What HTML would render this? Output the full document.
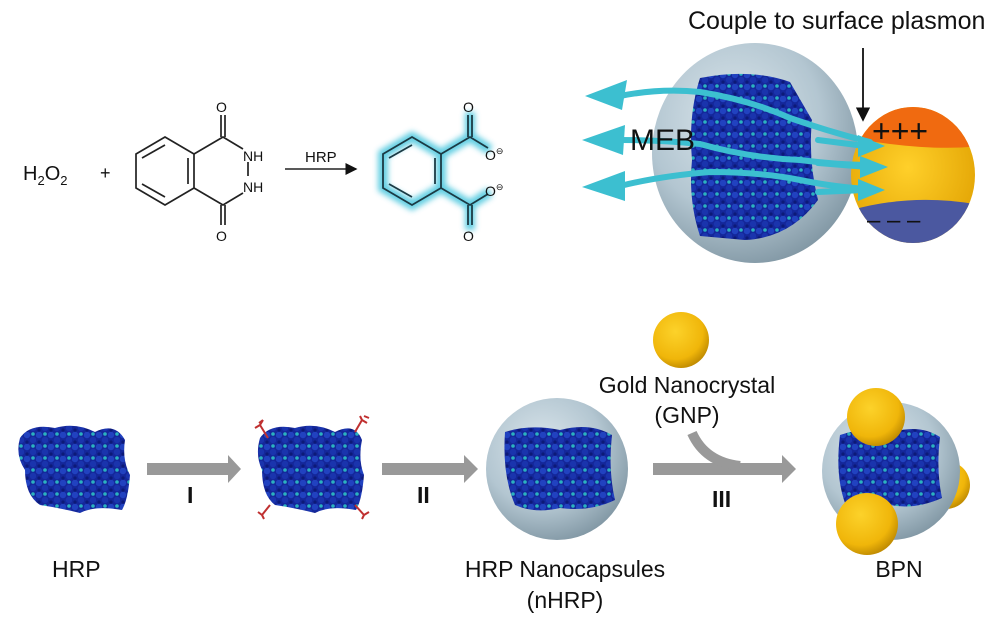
<!DOCTYPE html>
<html><head><meta charset="utf-8"><style>
html,body{margin:0;padding:0;background:#fff;width:1000px;height:625px;overflow:hidden}
svg{display:block}
text{font-family:"Liberation Sans",sans-serif;fill:#111}
</style></head><body>
<svg width="1000" height="625" viewBox="0 0 1000 625" xmlns="http://www.w3.org/2000/svg">
<defs>
<pattern id="prot" width="12" height="12" patternUnits="userSpaceOnUse">
<rect width="12" height="12" fill="#14279a"/>
<circle cx="3" cy="3" r="3.2" fill="#2142c0"/>
<circle cx="9" cy="8" r="3.2" fill="#1a34ad"/>
<circle cx="9" cy="2" r="1.8" fill="#2bb2bf"/>
<circle cx="3" cy="10" r="1.6" fill="#0c1a78"/>
</pattern>
<radialGradient id="cap" cx="0.4" cy="0.35" r="0.7">
<stop offset="0" stop-color="#dbe6ec"/><stop offset="0.6" stop-color="#b3c6d1"/><stop offset="1" stop-color="#7f95a2"/>
</radialGradient>
<radialGradient id="gold" cx="0.4" cy="0.35" r="0.7">
<stop offset="0" stop-color="#fcd22a"/><stop offset="0.7" stop-color="#f0b60a"/><stop offset="1" stop-color="#b98500"/>
</radialGradient>
<radialGradient id="bigg" cx="0.45" cy="0.45" r="0.6">
<stop offset="0" stop-color="#ffd02a"/><stop offset="1" stop-color="#e0a000"/>
</radialGradient>
<filter id="glow"><feGaussianBlur stdDeviation="3"/></filter>
<clipPath id="gc"><ellipse cx="913" cy="175" rx="62" ry="68"/></clipPath>
<marker id="ah" markerWidth="8" markerHeight="8" refX="7" refY="4" orient="auto"><path d="M0,0 L8,4 L0,8z" fill="#111"/></marker>
</defs>

<!-- Reaction -->
<text x="23" y="180" font-size="20">H<tspan font-size="13" dy="5">2</tspan><tspan dy="-5">O</tspan><tspan font-size="13" dy="5">2</tspan></text>
<text x="100" y="179" font-size="18">+</text>
<g stroke="#222" stroke-width="1.7" fill="none">
<polygon points="165,137 194,154 194,188 165,205 136,188 136,154"/>
<line x1="142" y1="158" x2="165" y2="145"/><line x1="188" y1="158" x2="188" y2="184"/><line x1="142" y1="184" x2="165" y2="197"/>
<path d="M194,154 L223,137 L243,149 M194,188 L223,205 L243,193 M248,162 L248,176"/>
<line x1="221" y1="137" x2="221" y2="115"/><line x1="225" y1="137" x2="225" y2="115"/>
<line x1="221" y1="205" x2="221" y2="225"/><line x1="225" y1="205" x2="225" y2="225"/>
</g>
<text x="216" y="112" font-size="14">O</text>
<text x="216" y="241" font-size="14">O</text>
<text x="243" y="161" font-size="14">NH</text>
<text x="243" y="192" font-size="14">NH</text>
<line x1="285" y1="169" x2="356" y2="169" stroke="#222" stroke-width="1.5" marker-end="url(#ah)"/>
<text x="305" y="162" font-size="15">HRP</text>
<g stroke="#3cc3dc" stroke-width="10" fill="none" filter="url(#glow)" opacity="0.8">
<polygon points="412,137 441,154 441,188 412,205 383,188 383,154"/>
<path d="M441,154 L470,137 L470,112 M470,137 L490,150 M441,188 L470,205 L470,230 M470,205 L490,192"/>
</g>
<g stroke="#1b3a44" stroke-width="1.8" fill="none">
<polygon points="412,137 441,154 441,188 412,205 383,188 383,154"/>
<line x1="389" y1="158" x2="412" y2="145"/><line x1="435" y1="158" x2="435" y2="184"/><line x1="389" y1="184" x2="412" y2="197"/>
<path d="M441,154 L470,137 L488,148 M441,188 L470,205 L488,194"/>
<line x1="468" y1="137" x2="468" y2="115"/><line x1="472" y1="137" x2="472" y2="115"/>
<line x1="468" y1="205" x2="468" y2="225"/><line x1="472" y1="205" x2="472" y2="225"/>
</g>
<text x="463" y="112" font-size="14" fill="#1b3a44">O</text>
<text x="463" y="241" font-size="14" fill="#1b3a44">O</text>
<text x="485" y="160" font-size="14" fill="#1b3a44">O<tspan font-size="9" dy="-6">⊖</tspan></text>
<text x="485" y="196" font-size="14" fill="#1b3a44">O<tspan font-size="9" dy="-6">⊖</tspan></text>

<!-- Top right -->
<text x="688" y="29" font-size="25">Couple to surface plasmon</text>
<line x1="863" y1="48" x2="863" y2="120" stroke="#111" stroke-width="1.8" marker-end="url(#ah)"/>
<ellipse cx="755" cy="153" rx="103" ry="110" fill="url(#cap)"/>
<path d="M700,78 Q750,68 790,82 L812,120 Q808,160 818,200 Q790,238 745,240 L700,236 Q688,200 692,160 Q688,115 700,78z" fill="url(#prot)"/>
<g clip-path="url(#gc)">
<rect x="845" y="100" width="140" height="150" fill="url(#bigg)"/>
<path d="M845,100 L980,100 L980,146 Q930,152 850,138z" fill="#f06a10"/>
<path d="M845,212 Q910,192 980,205 L980,250 L845,250z" fill="#4b58a0"/>
</g>
<text x="872" y="142" font-size="32" fill="#8a1010">+++</text>
<text x="867" y="228" font-size="24" fill="#2a3470">– – –</text>
<g stroke="#3cbfd0" stroke-width="6" fill="none" stroke-linecap="round">
<path d="M620,96 Q660,88 700,92 Q750,100 790,118 Q830,132 870,142"/>
<path d="M620,140 Q660,140 700,144 Q750,158 800,160 Q840,165 870,165"/>
<path d="M620,186 Q660,176 710,172 Q760,172 800,180 Q840,188 870,189"/>
<path d="M818,140 L865,146 M818,163 L868,167 M818,192 L865,190"/>
</g>
<g fill="#3cbfd0">
<polygon points="585,96 627,80 622,110"/><polygon points="582,140 625,125 623,155"/><polygon points="582,187 625,171 625,201"/>
<polygon points="885,146 858,135 858,157"/><polygon points="888,167 860,156 860,178"/><polygon points="885,190 858,179 858,201"/>
</g>
<text x="630" y="150" font-size="30">MEB</text>

<!-- Bottom row -->
<path d="M20,438 Q30,423 55,428 Q75,422 95,432 Q115,422 125,440 Q122,460 130,475 Q128,500 122,510 Q95,505 80,513 Q60,508 40,505 Q25,495 25,470 Q15,455 20,438z" fill="url(#prot)"/>
<text x="52" y="577" font-size="23">HRP</text>
<polygon points="147,463 228,463 228,455 241,469 228,483 228,475 147,475" fill="#999"/>
<text x="187" y="503" font-size="23" font-weight="bold">I</text>
<path d="M260,438 Q270,423 295,428 Q315,422 335,432 Q355,422 362,440 Q358,460 364,475 Q362,500 356,510 Q330,505 315,513 Q295,508 275,505 Q262,495 262,470 Q255,455 260,438z" fill="url(#prot)"/>
<g stroke="#c03030" stroke-width="2" fill="none">
<path d="M268,438 L260,425 M260,425 l-5,3 M260,425 l3,-5 M263,420 l-4,3"/><path d="M355,432 L362,420 M362,420 l5,3 M362,420 l-2,-4 M364,416 l5,2"/>
<path d="M270,505 L262,515 M262,515 l-4,-3 M262,515 l2,4"/><path d="M355,505 L364,515 M364,515 l5,-3 M364,515 l-2,4"/>
</g>
<polygon points="382,463 464,463 464,455 478,469 464,483 464,475 382,475" fill="#999"/>
<text x="417" y="503" font-size="23" font-weight="bold">II</text>
<circle cx="557" cy="469" r="71" fill="url(#cap)"/>
<path d="M505,432 Q530,424 560,430 Q590,422 612,435 Q608,470 615,500 Q590,512 560,508 Q535,514 515,505 Q502,475 505,432z" fill="url(#prot)"/>
<text x="565" y="577" font-size="23" text-anchor="middle">HRP Nanocapsules</text>
<text x="565" y="608" font-size="23" text-anchor="middle">(nHRP)</text>
<circle cx="681" cy="340" r="28" fill="url(#gold)"/>
<text x="687" y="393" font-size="23" text-anchor="middle">Gold Nanocrystal</text>
<text x="687" y="423" font-size="23" text-anchor="middle">(GNP)</text>
<polygon points="653,463 782,463 782,455 796,469 782,483 782,475 653,475" fill="#999"/>
<path d="M692,433 Q705,462 740,466" stroke="#999" stroke-width="10" fill="none"/>
<text x="712" y="507" font-size="23" font-weight="bold">III</text>
<circle cx="946" cy="485" r="24" fill="url(#gold)"/>
<circle cx="891" cy="471" r="69" fill="url(#cap)"/>
<path d="M840,435 Q865,426 893,432 Q920,424 940,437 Q936,470 942,498 Q915,510 890,505 Q865,512 845,503 Q835,475 840,435z" fill="url(#prot)"/>
<circle cx="876" cy="417" r="29" fill="url(#gold)"/>
<circle cx="867" cy="524" r="31" fill="url(#gold)"/>
<text x="899" y="577" font-size="23" text-anchor="middle">BPN</text>
</svg>
</body></html>
